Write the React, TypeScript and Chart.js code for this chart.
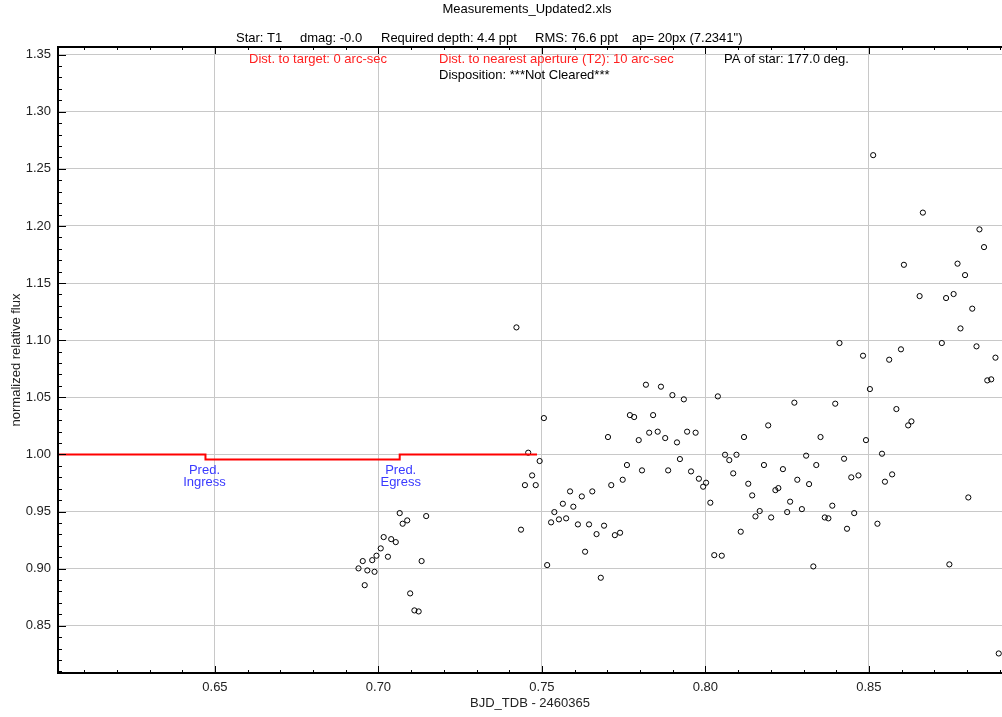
import React, { useEffect, useRef } from "react";
import { Chart, registerables } from "chart.js";

Chart.register(...registerables);

// ---- data ----
const X_MIN = 0.602;
const X_MAX = 0.8907;
const Y_MIN = 0.8086;
const Y_MAX = 1.3567;

const X_TICKS = [0.65, 0.7, 0.75, 0.8, 0.85];
const Y_TICKS = [0.85, 0.9, 0.95, 1.0, 1.05, 1.1, 1.15, 1.2, 1.25, 1.3, 1.35];

const BJD = [
  0.6939, 0.6952, 0.6958, 0.6966, 0.6981, 0.6988, 0.6994, 0.7007, 0.7016, 0.7029,
  0.7039, 0.7053, 0.7065, 0.7074, 0.7088, 0.7097, 0.711, 0.7123, 0.7132, 0.7146,
  0.7422, 0.7436, 0.7448, 0.7458, 0.747, 0.7481, 0.7493, 0.7506, 0.7516, 0.7528,
  0.7538, 0.7552, 0.7564, 0.7574, 0.7586, 0.7596, 0.761, 0.7622, 0.7632, 0.7644,
  0.7654, 0.7667, 0.768, 0.769, 0.7702, 0.7712, 0.7723, 0.7739, 0.7747, 0.776,
  0.7769, 0.7782, 0.7796, 0.7806, 0.7818, 0.7828, 0.784, 0.7854, 0.7864, 0.7877,
  0.7886, 0.7899, 0.7913, 0.7922, 0.7934, 0.7944, 0.7956, 0.797, 0.798,
  0.7993, 0.8002, 0.8015, 0.8027, 0.8038, 0.805, 0.806, 0.8073, 0.8085, 0.8095,
  0.8108, 0.8118, 0.8131, 0.8143, 0.8153, 0.8166, 0.8179, 0.8192, 0.8201, 0.8214,
  0.8223, 0.8237, 0.825, 0.8259, 0.8272, 0.8281, 0.8295, 0.8308, 0.8317, 0.833,
  0.8339, 0.8352, 0.8365, 0.8376, 0.8388, 0.8397, 0.841, 0.8424, 0.8433, 0.8446,
  0.8455, 0.8468, 0.8482, 0.8491, 0.8503, 0.8513, 0.8526, 0.854, 0.8549, 0.8562,
  0.8571, 0.8584, 0.8598, 0.8607, 0.862, 0.863, 0.8655, 0.8665, 0.8723, 0.8736,
  0.8746, 0.8759, 0.8771, 0.878, 0.8794, 0.8804, 0.8816, 0.8829, 0.8838, 0.8852,
  0.8862, 0.8874, 0.8887, 0.8897,
];

const FLUX = [
  0.9002, 0.9066, 0.8855, 0.8984, 0.9074, 0.8972, 0.9113, 0.9177, 0.9276, 0.9104,
  0.9258, 0.9232, 0.9486, 0.9393, 0.9422, 0.8783, 0.8634, 0.8625, 0.9066, 0.946,
  1.1112, 0.9341, 0.9731, 1.0015, 0.9816, 0.9731, 0.9942, 1.0318, 0.9031, 0.9405,
  0.9495, 0.9431, 0.9568, 0.944, 0.9676, 0.9542, 0.9387, 0.9632, 0.9148, 0.9387,
  0.9676, 0.9302, 0.892, 0.9376, 1.0152, 0.9731, 0.9293, 0.9314, 0.9778, 0.9907,
  1.0344, 1.0327, 1.0125, 0.986, 1.061, 1.019, 1.0344, 1.0199, 1.0593, 1.0143,
  0.986, 1.0519, 1.0105, 0.9959, 1.0482, 1.0199, 0.9851, 1.019, 0.9787,
  0.9717, 0.9752, 0.9577, 0.9118, 1.0508, 0.9113, 0.9997, 0.995, 0.9834, 0.9997,
  0.9323, 1.0152, 0.9743, 0.9641, 0.9457, 0.9504, 0.9907, 1.0254, 0.9448, 0.9687,
  0.9705, 0.9871, 0.9495, 0.9586, 1.0453, 0.9778, 0.9521, 0.9989, 0.974, 0.9019,
  0.9907, 1.0152, 0.9448, 0.944, 0.9551, 1.0444, 1.0975, 0.9962, 0.9349, 0.9799,
  0.9486, 0.9816, 1.0864, 1.0125, 1.0572, 1.262, 0.9393, 1.0006, 0.9761, 1.0829,
  0.9825, 1.0397, 1.092, 1.166, 1.0254, 1.0289, 1.1386, 1.2117, 1.0975, 1.1369,
  0.9037, 1.1404, 1.167, 1.1103, 1.157, 0.9623, 1.1276, 1.0946, 1.197, 1.1815,
  1.0648, 1.0657, 1.0847, 0.8257,
];

const MODEL_X = [0.602, 0.6471, 0.6471, 0.7065, 0.7065, 0.7485];
const MODEL_Y = [1.0, 1.0, 0.9956, 0.9956, 1.0, 1.0];

const INGRESS = 0.6471;
const EGRESS = 0.7065;
const MODEL_LOW = 0.9956;

const FONT = '"Liberation Sans", Arial, Helvetica, sans-serif';
const FS = 13;

const framePlugin = {
  id: "frame",
  afterDraw(chart: any) {
    const { ctx, chartArea, scales } = chart;
    const xs = scales.x;
    const ys = scales.y;
    const { left, right, top, bottom } = chartArea;
    ctx.save();
    ctx.strokeStyle = "#000";
    ctx.lineWidth = 1;
    ctx.beginPath();
    // x minor/major ticks (bottom & top, pointing inward)
    for (let i = Math.ceil(X_MIN * 100); i <= Math.floor(X_MAX * 100); i++) {
      const v = i / 100;
      const major = i % 5 === 0;
      const px = Math.round(xs.getPixelForValue(v)) + 0.5;
      const len = major ? 7 : 3;
      ctx.moveTo(px, bottom);
      ctx.lineTo(px, bottom - len);
      ctx.moveTo(px, top);
      ctx.lineTo(px, top + len);
    }
    for (let i = Math.ceil(Y_MIN * 100); i <= Math.floor(Y_MAX * 100); i++) {
      const v = i / 100;
      const major = i % 5 === 0;
      const py = Math.round(ys.getPixelForValue(v)) + 0.5;
      const len = major ? 8 : 4;
      ctx.moveTo(left, py);
      ctx.lineTo(left + len, py);
    }
    ctx.stroke();
    ctx.lineWidth = 2;
    ctx.beginPath();
    ctx.moveTo(right + 2, top);
    ctx.lineTo(left, top);
    ctx.lineTo(left, bottom);
    ctx.lineTo(right + 2, bottom);
    ctx.stroke();

    // header texts
    ctx.font = `${FS}px ${FONT}`;
    ctx.textBaseline = "middle";
    ctx.fillStyle = "#000";
    ctx.textAlign = "center";
    ctx.fillText("Measurements_Updated2.xls", 527, 9);
    ctx.textAlign = "left";
    ctx.fillText("Star: T1", 236, 38);
    ctx.fillText("dmag: -0.0", 300, 38);
    ctx.fillText("Required depth: 4.4 ppt", 381, 38);
    ctx.fillText("RMS: 76.6 ppt", 535, 38);
    ctx.fillText("ap= 20px (7.2341\")", 632, 38);
    ctx.fillStyle = "#ff2020";
    ctx.fillText("Dist. to target: 0 arc-sec", 249, 59);
    ctx.fillText("Dist. to nearest aperture (T2): 10 arc-sec", 439, 59);
    ctx.fillStyle = "#000";
    ctx.fillText("PA of star: 177.0 deg.", 724, 59);
    ctx.fillText("Disposition: ***Not Cleared***", 439, 75);

    // predicted ingress / egress labels
    ctx.fillStyle = "#3a3aff";
    ctx.textAlign = "center";
    const ly = ys.getPixelForValue(MODEL_LOW);
    const ix = xs.getPixelForValue(INGRESS);
    const ex = xs.getPixelForValue(EGRESS);
    ctx.fillText("Pred.", ix - 1, ly + 11);
    ctx.fillText("Ingress", ix - 1, ly + 23);
    ctx.fillText("Pred.", ex + 1, ly + 11);
    ctx.fillText("Egress", ex + 1, ly + 23);
    ctx.restore();
  },
};

export default function App() {
  const ref = useRef<HTMLCanvasElement | null>(null);

  useEffect(() => {
    if (!ref.current) return;
    const points = BJD.map((x, i) => ({ x, y: FLUX[i] }));
    const model = MODEL_X.map((x, i) => ({ x, y: MODEL_Y[i] }));
    const chart = new Chart(ref.current, {
      type: "scatter",
      data: {
        datasets: [
          {
            type: "line",
            label: "model",
            data: model,
            borderColor: "#ff0000",
            borderWidth: 2,
            pointRadius: 0,
            fill: false,
            tension: 0,
          } as any,
          {
            label: "flux",
            data: points,
            pointRadius: 2.6,
            pointBorderWidth: 1,
            pointBorderColor: "#000",
            pointBackgroundColor: "rgba(255,255,255,0)",
            borderColor: "#000",
            backgroundColor: "rgba(255,255,255,0)",
          },
        ],
      },
      options: {
        animation: false,
        responsive: false,
        maintainAspectRatio: false,
        layout: { autoPadding: false, padding: { top: 47, left: 0, right: 0, bottom: 0 } },
        plugins: {
          legend: { display: false },
          tooltip: { enabled: false },
        },
        scales: {
          x: {
            type: "linear",
            min: X_MIN,
            max: X_MAX,
            afterBuildTicks: (s: any) => {
              s.ticks = X_TICKS.map((v) => ({ value: v }));
            },
            afterFit: (s: any) => {
              s.height = 44;
            },
            grid: { color: "#c8c8c8", lineWidth: 1, drawTicks: false },
            border: { display: false },
            ticks: {
              padding: 7,
              color: "#222",
              font: { family: FONT, size: FS },
              callback: (v: any) => Number(v).toFixed(2),
              maxRotation: 0,
              autoSkip: false,
            },
            title: {
              display: true,
              text: "BJD_TDB - 2460365",
              color: "#222",
              font: { family: FONT, size: FS },
              padding: { top: 0, bottom: 6 },
            },
          },
          y: {
            type: "linear",
            min: Y_MIN,
            max: Y_MAX,
            afterBuildTicks: (s: any) => {
              s.ticks = Y_TICKS.map((v) => ({ value: v }));
            },
            afterFit: (s: any) => {
              s.width = 58;
            },
            grid: { color: "#c8c8c8", lineWidth: 1, drawTicks: false },
            border: { display: false },
            ticks: {
              padding: 7,
              color: "#222",
              font: { family: FONT, size: FS },
              callback: (v: any) => Number(v).toFixed(2),
              autoSkip: false,
            },
            title: {
              display: true,
              text: "normalized relative flux",
              color: "#222",
              font: { family: FONT, size: FS },
              padding: { top: 9, bottom: 0 },
            },
          },
        },
      },
      plugins: [framePlugin],
    });
    return () => chart.destroy();
  }, []);

  return (
    <div style={{ position: "fixed", left: 0, top: 0, width: 1002, height: 717, background: "#fff" }}>
      <canvas ref={ref} width={1002} height={717} style={{ width: 1002, height: 717, display: "block" }} />
    </div>
  );
}
